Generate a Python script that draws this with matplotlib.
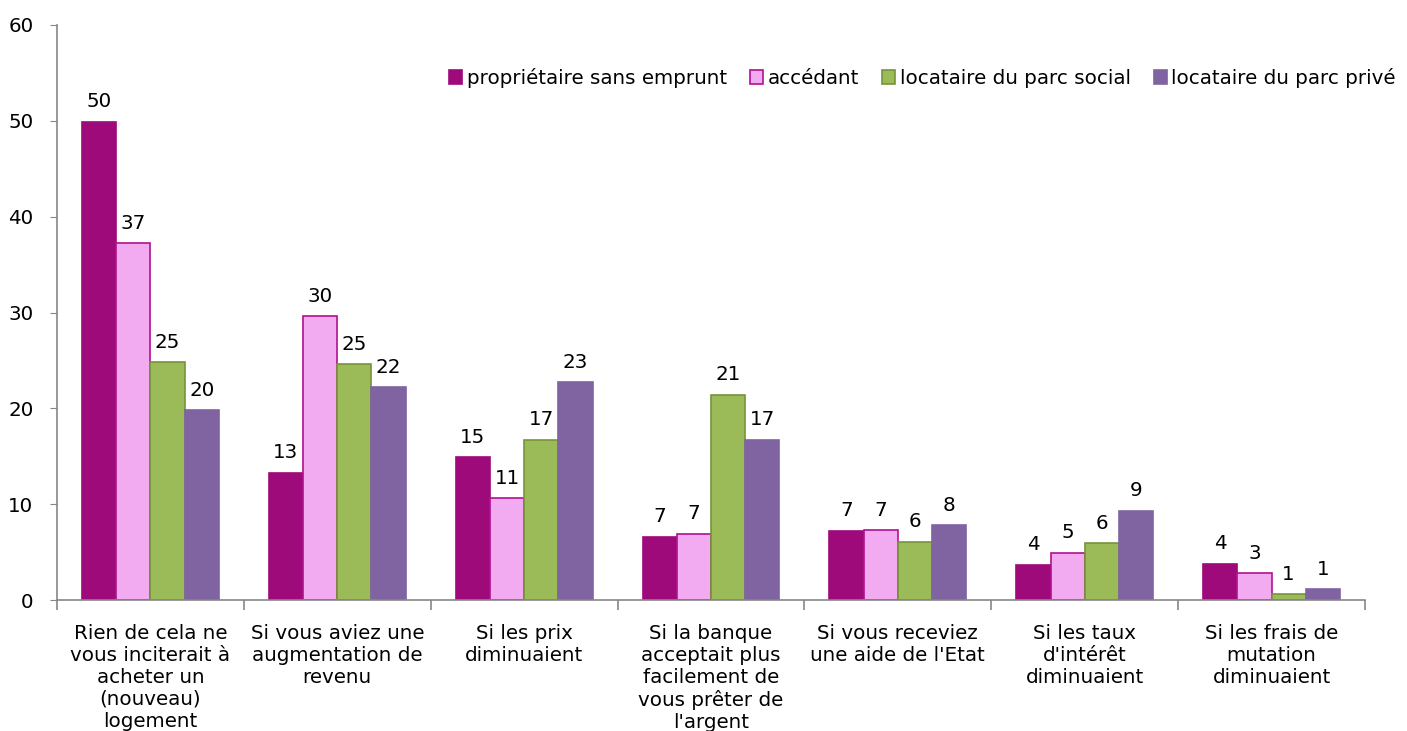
import numpy as np
from matplotlib import pyplot as plt

# categories and series (in %)
categories = ["Rien de cela ne\nvous inciterait à\nacheter un\n(nouveau)\nlogement",
              "Si vous aviez une\naugmentation de\nrevenu",
              "Si les prix\ndiminuaient",
              "Si la banque\nacceptait plus\nfacilement de\nvous prêter de\nl'argent",
              "Si vous receviez\nune aide de l'Etat",
              "Si les taux\nd'intérêt\ndiminuaient",
              "Si les frais de\nmutation\ndiminuaient"]
series_names = ["propriétaire sans emprunt", "accédant",
                "locataire du parc social", "locataire du parc privé"]
proprio = [49.9, 13.3, 14.9, 6.6, 7.2, 3.7, 3.8]
accedant = [37.2, 29.6, 10.6, 6.9, 7.3, 4.9, 2.8]
social = [24.8, 24.6, 16.7, 21.4, 6.1, 5.9, 0.6]
prive = [19.8, 22.2, 22.7, 16.7, 7.8, 9.3, 1.1]
yticks = [0, 10, 20, 30, 40, 50, 60]

colors = ["#9E0A7A", "#F2ABF0", "#9BBB59", "#8064A2"]
edges = ["#9E0A7A", "#B0128F", "#77933C", "#8064A2"]
fs = 14.3

fig = plt.figure(figsize=(14.07, 7.31), dpi=100)
ax = fig.add_axes([57/1407, 1-600/731, (1365-57)/1407, 575/731])

x = np.arange(len(categories))
w = 0.183
allvals = [proprio, accedant, social, prive]
for i, vals in enumerate(allvals):
    pos = x + (i - 1.5) * w
    ax.bar(pos, vals, w, color=colors[i], edgecolor=edges[i], linewidth=1.2,
           label=series_names[i], zorder=2)
    for p, v in zip(pos, vals):
        ax.text(p, v + 1.1, f"{v:.0f}", ha="center", va="bottom", fontsize=fs)

ax.set_xlim(-0.5, len(categories) - 0.5)
ax.set_ylim(0, 60)
ax.set_yticks(yticks)
ax.tick_params(axis="y", labelsize=fs, length=5, color="#868686", pad=12)
ax.set_xticks(x)
ax.set_xticklabels(categories, fontsize=fs, linespacing=1.2)
ax.tick_params(axis="x", which="major", length=0, pad=17)
ax.set_xticks(np.arange(len(categories) + 1) - 0.5, minor=True)
ax.tick_params(axis="x", which="minor", length=7, color="#868686", width=1.2)
for s in ["top", "right"]:
    ax.spines[s].set_visible(False)
for s in ["left", "bottom"]:
    ax.spines[s].set_color("#868686")
    ax.spines[s].set_linewidth(1.2)

fig.legend(loc="center left", bbox_to_anchor=(441/1407, 1-78/731), ncol=4,
           frameon=False, fontsize=fs, handlelength=0.65, handleheight=0.65,
           handletextpad=0.25, columnspacing=1.15, borderaxespad=0)

fig.savefig("out.png", dpi=100)
